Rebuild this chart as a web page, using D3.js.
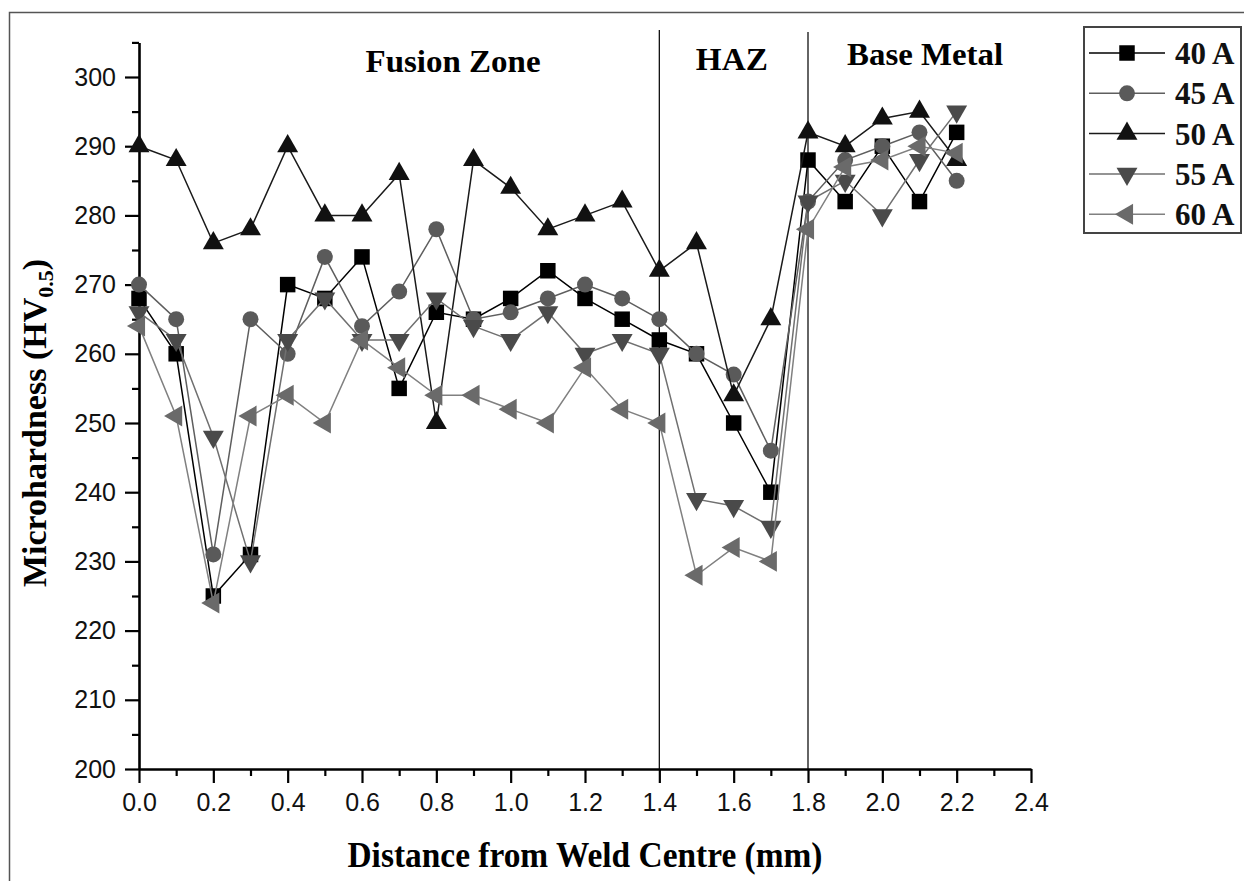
<!DOCTYPE html>
<html>
<head>
<meta charset="utf-8">
<script src="https://cdn.jsdelivr.net/npm/d3@7/dist/d3.min.js"></script>
<style>
  body { margin: 0; background: #fff; }
  svg { display: block; }
</style>
</head>
<body>
<svg></svg>
<script>
// Data
const distance = [0.0, 0.1, 0.2, 0.3, 0.4, 0.5, 0.6, 0.7, 0.8, 0.9, 1.0, 1.1,
                  1.2, 1.3, 1.4, 1.5, 1.6, 1.7, 1.8, 1.9, 2.0, 2.1, 2.2];
const hv40 = [268, 260, 225, 231, 270, 268, 274, 255, 266, 265, 268, 272,
              268, 265, 262, 260, 250, 240, 288, 282, 290, 282, 292];
const hv45 = [270, 265, 231, 265, 260, 274, 264, 269, 278, 265, 266, 268,
              270, 268, 265, 260, 257, 246, 282, 288, 290, 292, 285];
const hv50 = [290, 288, 276, 278, 290, 280, 280, 286, 250, 288, 284, 278,
              280, 282, 272, 276, 254, 265, 292, 290, 294, 295, 288];
const hv55 = [266, 262, 248, 230, 262, 268, 262, 262, 268, 264, 262, 266,
              260, 262, 260, 239, 238, 235, 282, 285, 280, 288, 295];
const hv60 = [264, 251, 224, 251, 254, 250, 262, 258, 254, 254, 252, 250,
              258, 252, 250, 228, 232, 230, 278, 287, 288, 290, 289];
const seriesNames = ["40 A", "45 A", "50 A", "55 A", "60 A"];
const xTicks = [0, 0.2, 0.4, 0.6, 0.8, 1.0, 1.2, 1.4, 1.6, 1.8, 2.0, 2.2, 2.4];
const yTicks = [200, 210, 220, 230, 240, 250, 260, 270, 280, 290, 300];
const zoneNames = ["Fusion Zone", "HAZ", "Base Metal"];
const zoneBounds = [1.4, 1.8];

const width = 1244;
const height = 881;
const serif = "'Liberation Serif', 'Times New Roman', serif";
const sans = "'Liberation Sans', Arial, sans-serif";

const svg = d3.select("svg")
    .attr("width", width)
    .attr("height", height);

svg.append("rect")
    .attr("width", width)
    .attr("height", height)
    .attr("fill", "#fff");

// outer frame (runs off the right and bottom edges)
svg.append("rect")
    .attr("x", 9.5)
    .attr("y", 12.5)
    .attr("width", width)
    .attr("height", height)
    .attr("fill", "none")
    .attr("stroke", "#555")
    .attr("stroke-width", 1.5);

const x = d3.scaleLinear().domain([0, 2.4]).range([139, 1031]);
const y = d3.scaleLinear().domain([200, 305]).range([769, 42.4]);

// zone boundaries
svg.append("g")
    .selectAll("line")
    .data(zoneBounds)
    .enter()
    .append("line")
    .attr("x1", d => x(d))
    .attr("x2", d => x(d))
    .attr("y1", (d, i) => i === 0 ? 30 : 32)
    .attr("y2", y(200))
    .attr("stroke", "#111")
    .attr("stroke-width", 1.3);

// zone labels
const zoneX = [0.845, 1.595, 2.115];
const zoneY = [72, 70, 65];
svg.append("g")
    .selectAll("text")
    .data(zoneNames)
    .enter()
    .append("text")
    .attr("x", (d, i) => x(zoneX[i]))
    .attr("y", (d, i) => zoneY[i])
    .attr("text-anchor", "middle")
    .attr("font-family", serif)
    .attr("font-weight", "bold")
    .attr("font-size", 31)
    .attr("textLength", (d, i) => [175, 72, 156][i])
    .attr("lengthAdjust", "spacingAndGlyphs")
    .text(d => d);

// axes
const xAxis = svg.append("g")
    .attr("transform", `translate(0,${y(200)})`)
    .call(d3.axisBottom(x).tickValues(xTicks).tickFormat(d3.format(".1f"))
        .tickSize(14).tickSizeOuter(0).tickPadding(8));
svg.append("g")
    .attr("transform", `translate(0,${y(200)})`)
    .call(d3.axisBottom(x).tickValues(d3.range(1, 24, 2).map(d => d / 10))
        .tickFormat("").tickSize(7).tickSizeOuter(0))
    .call(g => g.select(".domain").remove());

const yAxis = svg.append("g")
    .attr("transform", `translate(${x(0)},0)`)
    .call(d3.axisLeft(y).tickValues(yTicks).tickFormat(d3.format("d"))
        .tickSize(14).tickSizeOuter(0).tickPadding(9));
svg.append("g")
    .attr("transform", `translate(${x(0)},0)`)
    .call(d3.axisLeft(y).tickValues(d3.range(205, 306, 10))
        .tickFormat("").tickSize(7).tickSizeOuter(0))
    .call(g => g.select(".domain").remove());

svg.selectAll(".tick line").attr("stroke", "#000").attr("stroke-width", 2.2);
svg.selectAll(".domain").attr("stroke", "#000").attr("stroke-width", 2.6);
[xAxis, yAxis].forEach(g => g.selectAll("text")
    .attr("font-family", sans)
    .attr("font-size", 25)
    .attr("fill", "#111"));
xAxis.selectAll("text").attr("dy", "0.78em");

// axis titles
svg.append("text")
    .attr("x", 585)
    .attr("y", 867)
    .attr("text-anchor", "middle")
    .attr("font-family", serif)
    .attr("font-weight", "bold")
    .attr("font-size", 35)
    .attr("textLength", 475)
    .attr("lengthAdjust", "spacingAndGlyphs")
    .text("Distance from Weld Centre (mm)");

const yTitle = svg.append("text")
    .attr("transform", "translate(46,423) rotate(-90)")
    .attr("text-anchor", "middle")
    .attr("font-family", serif)
    .attr("font-weight", "bold")
    .attr("font-size", 34);
yTitle.append("tspan").text("Microhardness (HV");
yTitle.append("tspan").attr("font-size", 22).attr("dy", 7).text("0.5");
yTitle.append("tspan").attr("dy", -7).text(")");

// series
const seriesValues = [hv40, hv45, hv50, hv55, hv60];
const lineColors = ["#000", "#5e5e5e", "#1a1a1a", "#707070", "#808080"];
const markerColors = ["#000", "#5a5a5a", "#111", "#4a4a4a", "#6a6a6a"];
const markerPath = [
    d3.symbol(d3.symbolSquare, 240)(),
    d3.symbol(d3.symbolCircle, 200)(),
    d3.symbol(d3.symbolTriangle, 190)(),
    d3.symbol(d3.symbolTriangle, 190)(),
    d3.symbol(d3.symbolTriangle, 190)()
];
const markerRotate = [0, 0, 0, 180, -90];

const line = d3.line()
    .x(d => x(d.x))
    .y(d => y(d.v));

const plot = svg.append("g");
seriesValues.forEach((vals, i) => {
    const pts = vals.map((v, j) => ({ x: distance[j], v: v }));
    const g = plot.append("g");
    g.append("path")
        .datum(pts)
        .attr("d", line)
        .attr("fill", "none")
        .attr("stroke", lineColors[i])
        .attr("stroke-width", 1.5);
    g.selectAll("path.mark")
        .data(pts)
        .enter()
        .append("path")
        .attr("class", "mark")
        .attr("d", markerPath[i])
        .attr("transform", d => `translate(${x(d.x)},${y(d.v)}) rotate(${markerRotate[i]})`)
        .attr("fill", markerColors[i]);
});

// legend
const legend = svg.append("g");
legend.append("rect")
    .attr("x", 1084)
    .attr("y", 27)
    .attr("width", 157)
    .attr("height", 206)
    .attr("fill", "#fff")
    .attr("stroke", "#444")
    .attr("stroke-width", 2);

const rows = legend.selectAll("g.row")
    .data(seriesNames)
    .enter()
    .append("g")
    .attr("class", "row")
    .attr("transform", (d, i) => `translate(0,${53 + i * 40.3})`);
rows.append("line")
    .attr("x1", 1089)
    .attr("x2", 1165)
    .attr("stroke", (d, i) => lineColors[i])
    .attr("stroke-width", 1.5);
rows.append("path")
    .attr("d", (d, i) => markerPath[i])
    .attr("transform", (d, i) => `translate(1127,0) rotate(${markerRotate[i]})`)
    .attr("fill", (d, i) => markerColors[i]);
rows.append("text")
    .attr("x", 1175)
    .attr("y", 11)
    .attr("font-family", serif)
    .attr("font-weight", "bold")
    .attr("font-size", 31)
    .attr("fill", "#111")
    .text(d => d);
</script>
</body>
</html>
